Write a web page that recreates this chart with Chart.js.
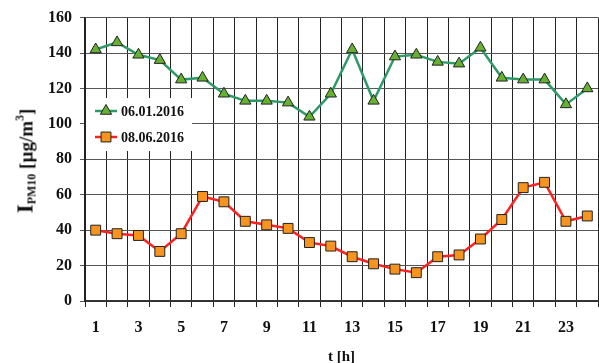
<!DOCTYPE html>
<html>
<head>
<meta charset="utf-8">
<script src="https://cdn.jsdelivr.net/npm/chart.js@4/dist/chart.umd.min.js"></script>
<style>
  html, body { margin: 0; padding: 0; background: #fff; overflow: hidden; }
  #wrap { position: relative; width: 606px; height: 363px; }
  #yTitle {
    position: absolute; left: 26px; top: 161px;
    transform: translate(-50%, -50%) rotate(-90deg);
    white-space: nowrap;
    font-family: "Liberation Serif", "Times New Roman", serif;
    font-weight: bold; font-size: 19px; color: #111;
  }
  #yTitle .big { font-size: 23px; }
  #yTitle sub { font-size: 12px; vertical-align: -3px; }
  #yTitle sup { font-size: 12px; vertical-align: 9px; }
</style>
</head>
<body>
<div id="wrap">
  <canvas id="c" width="606" height="363"></canvas>
  <div id="yTitle"><span class="big">I</span><sub>PM10</sub> [µg/m<sup>3</sup>]</div>
</div>
<script>
// Hour of day
const hours = [1, 2, 3, 4, 5, 6, 7, 8, 9, 10, 11, 12, 13, 14, 15, 16, 17, 18, 19, 20, 21, 22, 23, 24];
// PM10 index, winter day
const winter = [142, 146, 139, 136, 125, 126, 117, 113, 113, 112, 104, 117, 142, 113, 138, 139, 135, 134, 143, 126, 125, 125, 111, 120];
// PM10 index, summer day
const summer = [40, 38, 37, 28, 38, 59, 56, 45, 43, 41, 33, 31, 25, 21, 18, 16, 25, 26, 35, 46, 64, 67, 45, 48];
const seriesNames = ['06.01.2016', '08.06.2016'];
const yTicks = [0, 20, 40, 60, 80, 100, 120, 140, 160];

const FONT = '"Liberation Serif", "Times New Roman", serif';
const GREEN = '#2e9a68', TRI = '#66b032', RED = '#ff2020', SQ = '#f7941d';

// Boxed legend drawn inside the plot area
const innerLegend = {
  id: 'innerLegend',
  afterDatasetsDraw(chart) {
    const ctx = chart.ctx;
    const a = chart.chartArea;
    const x0 = a.left + 1, y0 = 98, w = 106, h = 53;
    ctx.save();
    ctx.fillStyle = '#fff';
    ctx.fillRect(x0, y0, w, h);
    const rows = [
      { y: 111, color: GREEN, fill: TRI, style: 'triangle', r: 6.5 },
      { y: 137, color: RED, fill: SQ, style: 'rect', r: 7 }
    ];
    rows.forEach((row, i) => {
      ctx.strokeStyle = row.color;
      ctx.lineWidth = 2.5;
      ctx.beginPath();
      ctx.moveTo(a.left + 10, row.y);
      ctx.lineTo(a.left + 32, row.y);
      ctx.stroke();
      ctx.fillStyle = row.fill;
      ctx.strokeStyle = '#222';
      ctx.lineWidth = 1;
      Chart.helpers.drawPoint(ctx, { pointStyle: row.style, radius: row.r, borderWidth: 1 }, a.left + 21, row.y);
      ctx.fillStyle = '#111';
      ctx.font = 'bold 14px ' + FONT;
      ctx.textBaseline = 'middle';
      ctx.textAlign = 'left';
      ctx.fillText(seriesNames[i], a.left + 36, row.y + 1);
    });
    ctx.restore();
  }
};

new Chart(document.getElementById('c'), {
  type: 'line',
  data: {
    labels: hours,
    datasets: [
      {
        label: seriesNames[0], data: winter,
        borderColor: GREEN, borderWidth: 2.5,
        pointStyle: 'triangle', pointRadius: 6.5,
        pointBackgroundColor: TRI, pointBorderColor: '#222', pointBorderWidth: 1,
        tension: 0
      },
      {
        label: seriesNames[1], data: summer,
        borderColor: RED, borderWidth: 2.5,
        pointStyle: 'rect', pointRadius: 7,
        pointBackgroundColor: SQ, pointBorderColor: '#222', pointBorderWidth: 1,
        tension: 0
      }
    ]
  },
  options: {
    responsive: false,
    animation: false,
    layout: { padding: { left: 0, right: 3, top: 17, bottom: 0 } },
    plugins: { legend: { display: false }, tooltip: { enabled: false } },
    scales: {
      x: {
        type: 'category',
        offset: true,
        grid: { offset: true, color: '#222', lineWidth: 1, tickLength: 6, drawTicks: true },
        border: { color: '#333', width: 2 },
        ticks: {
          autoSkip: false, maxRotation: 0, padding: 11, color: '#111',
          font: { family: FONT, weight: 'bold', size: 16 },
          callback: (v, i) => (i % 2 === 0 ? String(hours[i]) : '')
        },
        title: {
          display: true, text: 't [h]', color: '#111',
          font: { family: FONT, weight: 'bold', size: 15 },
          padding: { top: 0, bottom: -3 }
        },
        afterFit: s => { s.height = 62; }
      },
      y: {
        min: 0, max: 160,
        afterBuildTicks: s => { s.ticks = yTicks.map(v => ({ value: v })); },
        grid: { color: '#555', lineWidth: 1, tickLength: 5 },
        border: { color: '#222', width: 1.5 },
        ticks: {
          padding: 8, color: '#111',
          font: { family: FONT, weight: 'bold', size: 16 }
        },
        afterFit: s => { s.width = 85; }
      }
    }
  },
  plugins: [innerLegend]
});
</script>
</body>
</html>
